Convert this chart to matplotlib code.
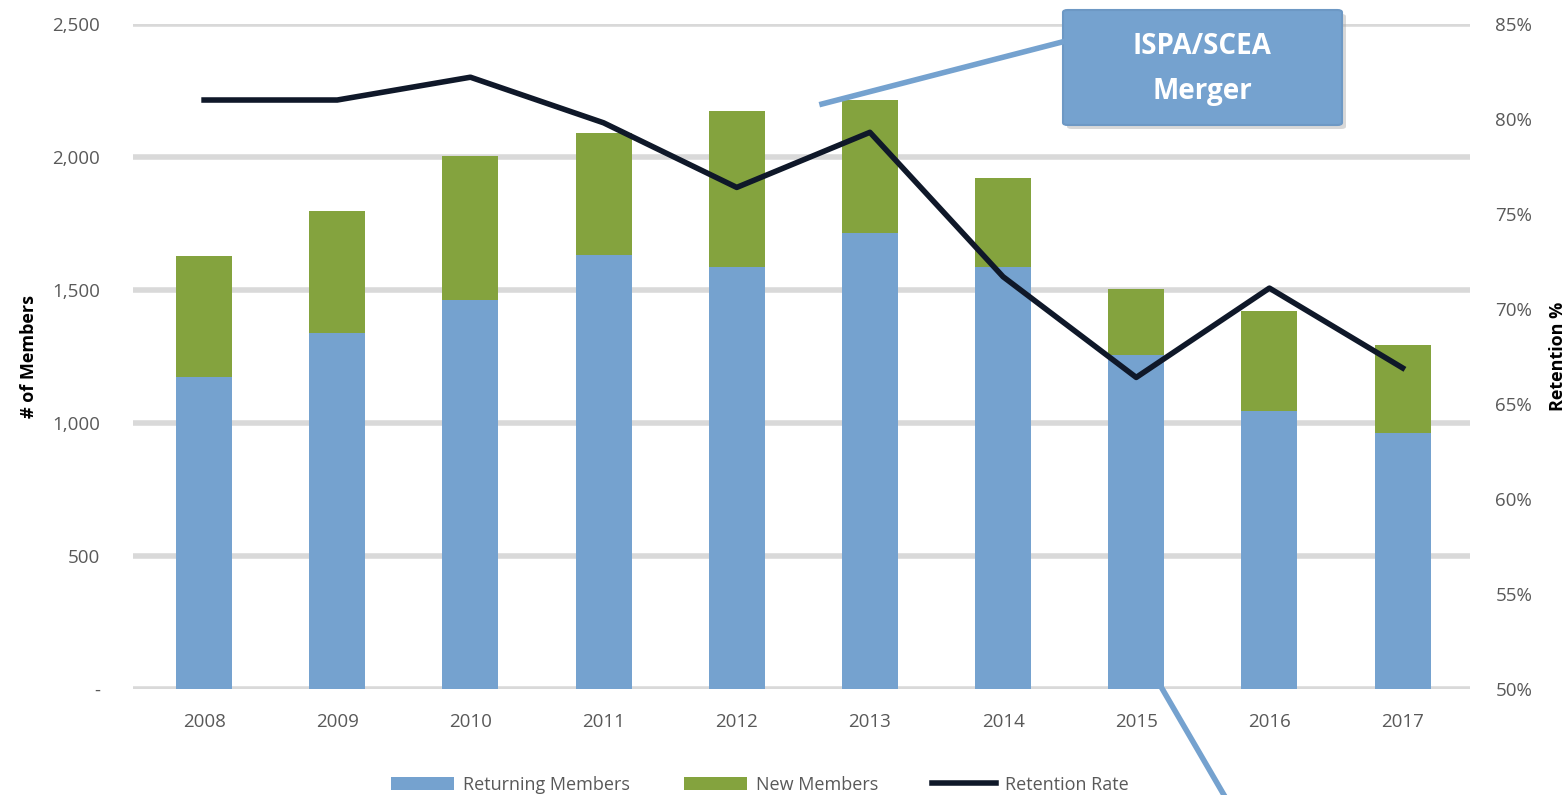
import matplotlib.pyplot as plt
import matplotlib.patches as mpatches
from matplotlib.lines import Line2D
from matplotlib.ticker import FuncFormatter

anios = ['2008', '2009', '2010', '2011', '2012', '2013', '2014', '2015', '2016', '2017']
recurrentes = [1173, 1338, 1462, 1632, 1586, 1714, 1586, 1256, 1045, 962]
nuevos = [455, 459, 542, 458, 587, 500, 335, 248, 376, 331]
retencion = [81.0, 81.0, 82.2, 79.8, 76.4, 79.3, 71.7, 66.4, 71.1, 66.9]

AZUL = '#75A2CF'
VERDE = '#84A33E'
LINEA = '#0F1829'
GRIS = '#595959'

plt.rcParams['font.family'] = ['Open Sans', 'DejaVu Sans']

fig = plt.figure(figsize=(15.66, 7.95), dpi=100)
ax = fig.add_axes([0.085, 0.1333, 0.854, 0.8365])
x = list(range(len(anios)))

# Barras apiladas
ax.bar(x, recurrentes, width=0.42, color=AZUL, label='Returning Members', zorder=3)
ax.bar(x, nuevos, width=0.42, bottom=recurrentes, color=VERDE, label='New Members', zorder=3)

ax.set_ylim(0, 2500)
ax.set_xlim(-0.533, 9.51)
ax.set_yticks([0, 500, 1000, 1500, 2000, 2500])
ax.yaxis.set_major_formatter(FuncFormatter(lambda v, p: '-' if v == 0 else f'{int(v):,}'))
ax.set_xticks(x)
ax.set_xticklabels(anios)
ax.grid(axis='y', color='#D9D9D9', lw=4, zorder=0)
ax.tick_params(length=0, labelsize=13.5, colors=GRIS, pad=17)
ax.tick_params(axis='y', pad=24)
for s in ax.spines.values():
    s.set_visible(False)
ax.set_ylabel('# of Members', fontsize=13, fontweight='bold', color='black', labelpad=10)

# Eje secundario: tasa de retencion
ax2 = ax.twinx()
ax2.plot(x, retencion, color=LINEA, lw=4, label='Retention Rate', zorder=4)
ax2.set_ylim(50, 85)
ax2.set_yticks([50, 55, 60, 65, 70, 75, 80, 85])
ax2.yaxis.set_major_formatter(FuncFormatter(lambda v, p: f'{int(v)}%'))
ax2.tick_params(length=0, labelsize=13.5, colors=GRIS, pad=18)
for s in ax2.spines.values():
    s.set_visible(False)
ax2.set_ylabel('Retention %', fontsize=13, fontweight='bold', color='black', labelpad=12)

# Leyenda
h1, l1 = ax.get_legend_handles_labels()
h2, l2 = ax2.get_legend_handles_labels()
fig.legend(h1 + h2, l1 + l2, loc='center', bbox_to_anchor=(0.485, 0.013), ncol=3,
           frameon=False, fontsize=13, labelcolor=GRIS, handlelength=3.5,
           columnspacing=3, handletextpad=0.5)

# Anotacion de la fusion
W, H = 1566, 795
fig.add_artist(Line2D([822 / W, 1062 / W], [1 - 104 / H, 1 - 42 / H], color=AZUL, lw=4,
                      transform=fig.transFigure))
fig.add_artist(Line2D([1160 / W, 1224 / W], [1 - 685 / H, 0], color=AZUL, lw=4,
                      transform=fig.transFigure))
sombra = mpatches.FancyBboxPatch((1067 / W, 1 - 129 / H), 279 / W, 115 / H,
                                 boxstyle='round,pad=0,rounding_size=0.003',
                                 transform=fig.transFigure, facecolor='#AAAAAA',
                                 edgecolor='none', alpha=0.45)
fig.add_artist(sombra)
caja = mpatches.FancyBboxPatch((1063 / W, 1 - 125 / H), 279 / W, 115 / H,
                               boxstyle='round,pad=0,rounding_size=0.003',
                               transform=fig.transFigure, facecolor=AZUL,
                               edgecolor='#6D98C4', lw=1.5)
fig.add_artist(caja)
fig.text(1202 / W, 1 - 47 / H, 'ISPA/SCEA', ha='center', va='center',
         color='white', fontsize=20, fontweight='bold')
fig.text(1202 / W, 1 - 91 / H, 'Merger', ha='center', va='center',
         color='white', fontsize=20, fontweight='bold')

fig.savefig('out.png', dpi=100)
